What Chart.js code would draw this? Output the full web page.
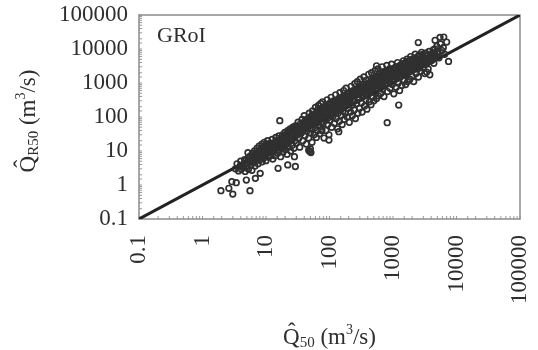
<!DOCTYPE html>
<html>
<head>
<meta charset="utf-8">
<script src="https://cdn.jsdelivr.net/npm/chart.js@4.4.1/dist/chart.umd.min.js"></script>
<style>
  html, body { margin: 0; padding: 0; background: #fff; }
  #wrap { width: 538px; height: 350px; }
</style>
</head>
<body>
<div id="wrap"><canvas id="myChart" width="538" height="350"></canvas></div>
<script>
var tickLabels = ["0.1", "1", "10", "100", "1000", "10000", "100000"];
var lineEnds = [0.1, 100000];
var panelName = "GRoI";

// [Q50, QR50] pairs, m3/s
var bandPoints = [
  [3.3,3.0],[3.5,4.2],[3.7,2.6],[3.9,3.6],[4.0,5.0],[4.1,2.9],[4.3,4.0],[4.4,3.3],[4.6,5.6],[4.7,2.5],
  [4.9,4.4],[5.0,3.6],[5.2,6.2],[5.3,2.9],[5.5,4.8],[5.6,7.0],[5.8,3.8],[5.9,5.8],[6.0,2.7],
  [6.1,8.5],[6.3,4.6],[6.4,6.6],[6.6,10],[6.7,3.6],[6.9,7.8],[7.0,5.2],[7.2,12],[7.3,8.8],[7.5,4.2],
  [7.6,6.4],[7.8,14],[7.9,9.6],[8.1,5.6],[8.2,11],[8.4,7.2],[8.6,16],[8.7,4.8],[8.9,9.0],[9.0,13],
  [9.2,6.2],[9.4,18],[9.5,10],[9.7,7.6],[9.9,15],[10,5.2],[10.2,12],[10.4,8.4],[10.6,20],[10.8,10],
  [11,6.6],[11.2,14],[11.5,9.2],[11.7,17],[12,11],[12,7.4],
  [12.5,22],[12.8,5.8],[13,13],[13.4,9.8],[13.7,16],[14,7.2],[14.3,25],[14.6,12],[15,19],[15.3,8.6],
  [15.6,14],[16,28],[16.3,10.5],[16.7,22],[17,6.8],[17.4,17],[17.8,12],[18.2,30],[18.6,9.4],[19,20],
  [19.4,14],[19.8,35],[20.2,11],[20.6,24],[21,16],[21.5,8.0],[22,40],[22.5,13],[23,28],[23.5,19],
  [24,45],[24.5,10],[25,32],[25.5,22],[26,15],[26.5,50],[27,26],[27.5,12],[28,36],[28.5,20],
  [29,55],[29.5,30],[30,17],
  [31,42],[32,70],[33,24],[34,13],[35,55],[36,34],[37,85],[38,20],[39,46],[40,110],
  [41,28],[42,62],[43,16],[44,38],[45,90],[46,52],[47,24],[48,130],[49,70],[50,34],
  [51,100],[52,44],[53,18],[54,150],[55,60],[56,82],[57,30],[58,120],[59,48],[60,190],
  [61,70],[62,25],[63,100],[64,40],[65,160],[66,58],[67,220],[68,85],[70,32],[71,130],
  [72,52],[73,250],[74,70],[75,180],[76,40],[77,110],[78,280],[79,62],[80,150],
  [82,24],[84,90],[86,210],[88,40],[90,130],[92,320],[94,60],[96,180],[98,30],[100,250],
  [102,80],[104,120],[106,380],[108,50],[110,200],[113,100],[116,300],[119,65],[122,160],[125,450],
  [128,90],[131,240],[134,45],[137,130],[140,350],[143,75],[146,520],[149,190],[152,110],[155,280],
  [158,60],[161,400],[164,150],[167,600],[170,85],[174,230],[178,130],[182,700],[186,330],[190,100],
  [194,480],[198,180],[200,260],
  [205,70],[210,400],[215,140],[220,800],[225,220],[230,110],[235,600],[240,320],[245,160],[250,950],
  [256,90],[262,450],[268,250],[274,1100],[280,130],[286,700],[292,380],[298,180],[305,1300],[312,520],
  [319,260],[326,140],[333,900],[340,420],[348,1500],[356,210],[364,650],[372,320],[380,1200],[388,170],
  [396,800],[405,450],[414,1800],[423,280],[432,1000],[441,600],[450,230],[460,2000],[470,750],[480,380],
  [490,1300],[500,300],[510,900],[520,2300],[530,500],[540,1600],[550,350],[560,1100],[570,700],[580,2600],
  [590,420],[600,1400],
  [615,800],[630,2000],[645,500],[660,1200],[675,3000],[690,650],[705,1600],[720,400],[740,2200],[760,950],
  [780,1400],[800,3300],[820,560],[840,1800],[860,1100],[880,2600],[900,700],[925,1500],[950,3600],[975,900],
  [1000,2000],[1030,480],[1060,1300],[1090,2900],[1120,750],[1150,1700],[1180,4000],[1210,1000],[1240,2400],[1270,600],
  [1300,1500],[1340,3200],[1380,850],[1420,2000],[1460,4500],[1500,1200],
  [1540,2800],[1580,900],[1620,1700],[1660,5000],[1700,1100],[1750,3500],[1800,2200],[1850,1300],[1900,6000],[1950,2600],
  [2000,1600],[2060,4200],[2120,1100],[2180,3000],[2240,7000],[2300,1900],[2370,4800],[2440,2600],[2510,1500],[2580,6500],
  [2660,3400],[2740,2200],[2820,8000],[2900,4000],[2990,2800],[3080,5500],[3170,1900],[3270,7500],[3370,3600],[3470,5000],
  [3580,2600],[3700,8500],[3820,4400],[3950,6200],
  [4100,5200],[4250,7800],[4400,3800],[4550,10000],[4700,6000],[4900,12000],[5100,8500],[5300,5500],[5600,14000],[5900,9000],
  [6200,11000],[6500,7000]
];

// the dense middle of the cloud
var corePoints = [
  [5.4,5.0],[6.2,6.0],[6.8,5.8],[7.4,7.6],[8.0,7.0],[8.6,9.4],[9.1,8.0],[9.6,11.5],[10.3,9.6],[10.9,12.5],
  [11.4,11],[11.9,13.5],
  [12.3,10],[13.2,15],[13.9,11.5],[14.8,16],[15.8,13],[16.5,18],[17.6,15],[18.4,21],[19.2,17],[20,25],
  [20.8,19],[21.8,27],[22.8,22],[23.8,31],[24.8,25],[25.8,35],[26.8,30],[27.8,42],[28.8,33],[29.8,40],
  [31.5,30],[33.5,45],[35.5,38],[37.5,55],[39.5,42],[41.5,60],[43.5,50],[45.5,70],[47.5,55],[49.5,80],
  [52.5,62],[55.5,95],[58.5,72],[61.5,110],[64.5,80],[67.5,120],[70.5,90],[73.5,140],[76.5,100],[79.5,115],
  [83,110],[87,80],[91,150],[95,95],[99,170],[103,115],[108,190],[114,130],[120,220],[126,150],
  [132,260],[139,170],[146,290],[153,200],[160,320],[168,230],[176,360],[185,260],[194,400],[200,300],
  [212,250],[228,420],[244,300],[262,500],[280,340],[300,600],[320,420],[342,700],[365,480],[390,800],
  [418,560],[446,900],[476,650],[508,1000],[542,720],[578,1100],[598,800],
  [640,1200],[680,900],[725,1350],[770,1000],[820,1500],[870,1150],[925,1700],[985,1300],[1050,1900],[1115,1450],
  [1190,2100],[1265,1600],[1345,2300],[1430,1800],[1490,2500],
  [1600,2000],[1700,2800],[1820,2300],[1950,3300],[2080,2600],[2220,3700],[2380,2900],[2540,4200],[2720,3300],[2900,4700],
  [3100,3700],[3320,5200],[3550,4200],[3800,5600],[4050,4600],[4350,6200],[4650,5400],[5000,7200]
];

// second layer between the middle and the edges of the cloud
var midPoints = [
  [4.2,3.8],[4.8,5.2],[5.1,4.2],[5.7,6.6],[6.5,5.0],[7.1,8.6],[7.7,6.8],[8.3,10.5],[8.8,7.8],[9.3,12],
  [9.8,9.0],[10.5,14],[11.1,9.8],[11.6,15.5],
  [12.6,12.5],[13.5,17.5],[14.2,13.5],[15.2,20],[16.1,15.5],[17.1,22],[18,17.5],[18.9,26],[19.6,21],[20.4,30],
  [21.3,23],[22.3,34],[23.3,27],[24.3,38],[25.3,30],[26.3,44],[27.3,35],[28.3,48],[29.3,38],
  [30.5,48],[32.5,38],[34.5,62],[36.5,46],[38.5,68],[40.5,52],[42.5,78],[44.5,60],[46.5,90],[48.5,66],
  [51,105],[54,76],[57,115],[60,88],[63,130],[66,95],[69,150],[72,110],[75,165],[78,125],
  [81,180],[85,130],[89,200],[93,145],[97,220],[101,160],[106,250],[111,175],[117,270],[123,190],
  [129,300],[135,215],[142,330],[149,240],[157,370],[165,270],[172,420],[180,300],[189,460],[197,340],
  [206,520],[218,360],[232,560],[248,420],[266,640],[286,470],[306,720],[328,530],[352,820],[376,600],
  [402,920],[430,680],[460,1050],[492,760],[526,1200],[560,850],[594,1300],
  [620,950],[660,1500],[700,1100],[745,1700],[795,1250],[845,1900],[900,1400],[960,2100],[1020,1550],[1085,2400],
  [1150,1750],[1225,2600],[1300,1950],[1385,2900],[1470,2150],
  [1560,3200],[1650,2400],[1760,3500],[1880,2700],[2010,4000],[2150,3000],[2300,4500],[2460,3400],[2630,5000],[2810,3800],
  [3000,5600],[3210,4200],[3430,6200],[3670,4700],[3920,6800],[4200,5300],[4500,7500]
];

// upper part of the cloud, just above the 1:1 line
var upperPoints = [
  [230,500],[260,580],[290,660],[320,750],[355,840],[390,950],[430,1050],[470,1150],[515,1300],[560,1450],
  [610,1550],[665,1750],[720,1900],[790,2100],[860,2300],[940,2500],[1020,2700],[1110,2900],[1210,3100],[1320,3400],
  [1440,3700],[1570,4000],[1710,4300],[1870,4700],[2040,5100],[2230,5500],[2440,5900],[2670,6400],[2920,6900],[3200,7400]
];

var outlierPoints = [
  [1.95,0.68],[2.6,0.80],[3.0,0.54],[2.9,1.25],[3.4,1.17],[5.6,0.68],[4.9,1.4],[6.8,1.57],[8.1,2.2],[5.2,8.9],
  [16.5,78],[15.5,3.1],[22,3.9],[29,3.5],[28,6.8],[49,9.6],[47,10.5],[51,9.0],[50,11.5],[98,21],
  [140,37],[810,68],[1230,225],[550,3200],[2500,15500],[5500,22000],[6300,22500],[7000,16000],[7500,4300],[3800,1750],
  [3400,2100],[4300,9400],[4600,18000]
];

var serif = '"Liberation Serif", "DejaVu Serif", serif';
var ink = "#2e2e2e";

function drawRich(ctx, parts, cx, cy, angle) {
  ctx.save();
  ctx.translate(cx, cy);
  ctx.rotate(angle);
  ctx.textBaseline = "middle";
  ctx.textAlign = "left";
  var w = 0;
  parts.forEach(function (p) {
    ctx.font = p.s + "px " + serif;
    w += ctx.measureText(p.t).width;
  });
  var x = -w / 2;
  parts.forEach(function (p) {
    ctx.font = p.s + "px " + serif;
    ctx.fillText(p.t, x, p.dy || 0);
    x += ctx.measureText(p.t).width;
  });
  ctx.restore();
}

var decor = {
  id: "decor",
  beforeDatasetsDraw: function (chart) {
    var ctx = chart.ctx, a = chart.chartArea;
    var sx = chart.scales.x, sy = chart.scales.y;
    ctx.save();
    ctx.strokeStyle = "#9a9a9a";
    ctx.lineWidth = 1;
    sx.ticks.forEach(function (t) {
      var px = sx.getPixelForValue(t.value);
      ctx.beginPath();
      ctx.moveTo(px, a.bottom);
      ctx.lineTo(px, a.bottom - 3);
      ctx.stroke();
    });
    sy.ticks.forEach(function (t) {
      var py = sy.getPixelForValue(t.value);
      ctx.beginPath();
      ctx.moveTo(a.left, py);
      ctx.lineTo(a.left + 3, py);
      ctx.stroke();
    });
    ctx.strokeStyle = "#8c8c8c";
    ctx.lineWidth = 1.5;
    ctx.strokeRect(a.left, a.top, a.right - a.left, a.bottom - a.top);
    ctx.fillStyle = ink;
    ctx.font = "22px " + serif;
    ctx.textBaseline = "alphabetic";
    ctx.fillText(panelName, a.left + 18, a.top + 27);
    ctx.restore();
  },
  afterDraw: function (chart) {
    var ctx = chart.ctx, a = chart.chartArea;
    ctx.save();
    ctx.fillStyle = ink;
    drawRich(ctx, [
      {t: "Q\u0302", s: 23},
      {t: "50", s: 15, dy: 5},
      {t: " (m", s: 23},
      {t: "3", s: 14, dy: -8},
      {t: "/s)", s: 23}
    ], (a.left + a.right) / 2, 338, 0);
    drawRich(ctx, [
      {t: "Q\u0302", s: 23},
      {t: "R50", s: 15, dy: 5},
      {t: " (m", s: 23},
      {t: "3", s: 14, dy: -8},
      {t: "/s)", s: 23}
    ], 29, 121, -Math.PI / 2);
    ctx.restore();
  }
};

function powerLabel(v) {
  var e = Math.log10(v);
  if (Math.abs(e - Math.round(e)) > 1e-6) return "";
  return tickLabels[Math.round(e) + 1] || "";
}

new Chart("myChart", {
  type: "scatter",
  data: {
    datasets: [{
      data: bandPoints.concat(corePoints, midPoints, upperPoints, outlierPoints).map(function (p) { return {x: p[0], y: p[1]}; }),
      backgroundColor: "rgba(0,0,0,0)",
      borderColor: "#303030",
      borderWidth: 1.7,
      pointRadius: 2.8
    }, {
      type: "line",
      data: [{x: lineEnds[0], y: lineEnds[0]}, {x: lineEnds[1], y: lineEnds[1]}],
      borderColor: "#222",
      borderWidth: 3,
      pointRadius: 0,
      fill: false
    }]
  },
  options: {
    responsive: false,
    animation: false,
    layout: { padding: { top: 15, right: 18, left: 0, bottom: 0 } },
    plugins: {
      legend: { display: false },
      tooltip: { enabled: false }
    },
    scales: {
      x: {
        type: "logarithmic",
        min: 0.1,
        max: 100000,
        grid: { display: false, drawTicks: false },
        border: { display: false },
        afterFit: function (s) { s.height = 131; s.paddingLeft = 0; s.paddingRight = 0; },
        ticks: {
          autoSkip: false,
          minRotation: 90,
          maxRotation: 90,
          padding: 16,
          color: ink,
          font: { family: serif, size: 23 },
          callback: powerLabel
        }
      },
      y: {
        type: "logarithmic",
        min: 0.1,
        max: 100000,
        grid: { display: false, drawTicks: false },
        border: { display: false },
        afterFit: function (s) { s.width = 139; s.paddingTop = 0; s.paddingBottom = 0; },
        ticks: {
          autoSkip: false,
          padding: 11,
          color: ink,
          font: { family: serif, size: 23 },
          callback: powerLabel
        }
      }
    }
  },
  plugins: [decor]
});
</script>
</body>
</html>
